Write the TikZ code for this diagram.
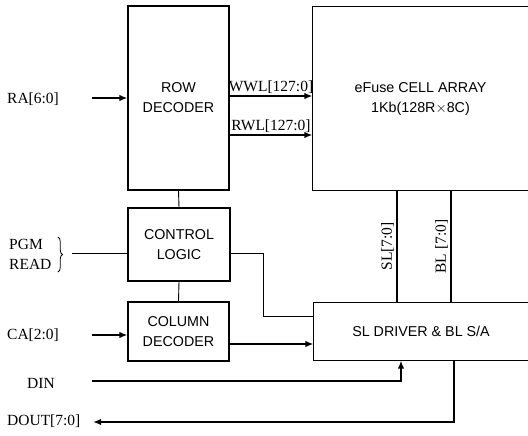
\documentclass[tikz,border=0pt]{standalone}
\usepackage{fontspec}
\setmainfont{Liberation Serif}
\setsansfont{Liberation Sans}
\usetikzlibrary{arrows.meta,decorations.pathreplacing}

\begin{document}
\begin{tikzpicture}[x=1pt,y=-1pt,>={Latex[length=8pt,width=6.5pt]},
 block/.style={draw,line width=1.1pt,align=center,inner sep=0pt,
   font=\sffamily\fontsize{14.3}{20}\selectfont},
 openblock/.style={block,draw=none},
 sig/.style={font=\fontsize{15.5}{18}\selectfont,inner sep=1pt},
 bus/.style={line width=2.2pt},
 ctl/.style={line width=0.9pt}]
\useasboundingbox (0,0) rectangle (528,436);
% Blocks (array and driver are open at the right edge)
\node[openblock,minimum width=215pt,minimum height=183pt] (array) at (420.5,98.5) {eFuse CELL ARRAY\\1Kb(128R$\times$8C)};
\node[block,minimum width=101pt,minimum height=184pt] (rowdec) at (178.5,98) {ROW\\DECODER};
\node[block,minimum width=102pt,minimum height=73pt] (ctrl) at (179,244.5) {CONTROL\\LOGIC};
\node[block,minimum width=101pt,minimum height=59pt] (coldec) at (178.5,331.5) {COLUMN\\DECODER};
\node[openblock,minimum width=214pt,minimum height=57pt] (sla) at (421,331.5) {SL DRIVER \& BL S/A};
\draw[line width=1.1pt] (array.north east) -- (array.north west) -- (array.south west) -- (array.south east);
\draw[line width=1.1pt] (sla.north east) -- (sla.north west) -- (sla.south west) -- (sla.south east);

% Signal names
\node[sig,anchor=west] (ra) at (6,99) {RA[6:0]};
\node[sig,anchor=west] (pgm) at (8,244) {PGM};
\node[sig,anchor=west] (rd) at (8,264) {READ};
\node[sig,anchor=west] (ca) at (6,335) {CA[2:0]};
\node[sig,anchor=west] (din) at (26,383) {DIN};
\node[sig,anchor=west] (dout) at (6,421) {DOUT[7:0]};

\coordinate (raend) at (92,98);
\coordinate (caend) at (92,335);
\coordinate (dinend) at (92,381);
\coordinate (doutend) at (93,422);
\coordinate (brtip) at (72,253);

% Row decoder to array
\draw[bus,->] (raend) -- (rowdec.west);
\draw[bus,->] (rowdec.east |- 0,96) -- (array.west |- 0,96)
  node[midway,above=1pt,sig,inner sep=0pt] {WWL[127:0]};
\draw[bus,->] (rowdec.east |- 0,135) -- (array.west |- 0,135)
  node[midway,above=1pt,sig,inner sep=0pt] {RWL[127:0]};

% Control
\draw[ctl] (rowdec.south) -- (ctrl.north);
\draw[ctl] (ctrl.south) -- (coldec.north);
\draw[decorate,decoration={brace,amplitude=4.5pt},line width=0.8pt] (58,237) -- (58,272);
\draw[ctl] (brtip) -- (brtip -| ctrl.west);
\draw[ctl] (ctrl.east |- brtip) -- ++(33,0) |- (sla.west |- 0,316);

% Column path and data
\draw[bus,->] (caend) -- (coldec.west |- caend);
\draw[bus,->] (coldec.east |- 0,344) -- (sla.west |- 0,344);
\draw[bus,->] (dinend) -| (sla.south -| 401,0);
\draw[bus,->] (sla.south -| 454,0) |- (doutend);

% Source and bit lines
\draw[bus] (sla.north -| 397,0) -- (array.south -| 397,0)
  node[midway,above=2pt,sloped,sig,inner sep=0pt] {SL[7:0]};
\draw[bus] (sla.north -| 451,0) -- (array.south -| 451,0)
  node[midway,above=2pt,sloped,sig,inner sep=0pt] {BL [7:0]};
\end{tikzpicture}
\end{document}
